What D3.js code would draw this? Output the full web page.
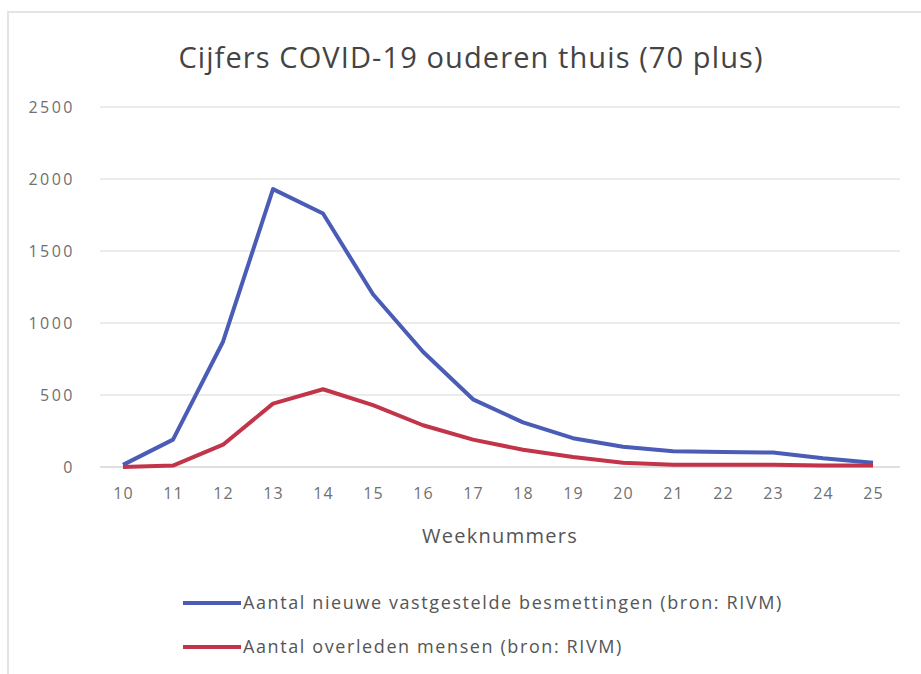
<!DOCTYPE html>
<meta charset="utf-8">
<html>
<head>
<script src="https://d3js.org/d3.v7.min.js"></script>
<style>
  body { margin: 0; background: #fff; }
  text { font-family: "Open Sans", sans-serif; }
</style>
</head>
<body>
<svg width="921" height="674"></svg>
<script>
// week numbers on the x axis
var weeks = [10, 11, 12, 13, 14, 15, 16, 17, 18, 19, 20, 21, 22, 23, 24, 25];
// new confirmed infections
var besmettingen = [15, 190, 870, 1930, 1760, 1200, 800, 470, 310, 200, 140, 110, 105, 100, 60, 30];
// deaths
var overleden = [0, 10, 155, 440, 540, 430, 290, 190, 120, 70, 30, 15, 15, 15, 10, 10];
var yTicks = [0, 500, 1000, 1500, 2000, 2500];
var seriesNames = ["Aantal nieuwe vastgestelde besmettingen (bron: RIVM)", "Aantal overleden mensen (bron: RIVM)"];
var colors = ["#4a5cb6", "#c13449"];

var svg = d3.select("svg");

// faint frame of the original picture
svg.append("rect")
    .attr("x", 8).attr("y", 12)
    .attr("width", 930).attr("height", 700)
    .attr("fill", "none")
    .attr("stroke", "#e4e4e4")
    .attr("stroke-width", 2);

var x = d3.scaleLinear().domain([10, 25]).range([123, 873]);
var y = d3.scaleLinear().domain([0, 2500]).range([467, 107]);

// gridlines
svg.append("g")
  .selectAll("line")
  .data(yTicks)
  .enter().append("line")
    .attr("x1", 100).attr("x2", 900)
    .attr("y1", function(d) { return y(d); })
    .attr("y2", function(d) { return y(d); })
    .attr("stroke", function(d) { return d == 0 ? "#d4d4d4" : "#e6e6e6"; })
    .attr("stroke-width", 1.5);

// y axis labels
var yAxis = svg.append("g")
    .attr("transform", "translate(75,0)")
    .call(d3.axisLeft(y).tickValues(yTicks).tickFormat(d3.format("d")).tickSize(0).tickPadding(0));
yAxis.select(".domain").remove();
yAxis.selectAll("text")
    .attr("font-size", "16px")
    .attr("fill", "#707070")
    .style("letter-spacing", "2.5px")
    .style("font-family", "'Open Sans', sans-serif");

// x axis labels
var xAxis = svg.append("g")
    .attr("transform", "translate(0,488)")
    .call(d3.axisBottom(x).tickValues(weeks).tickFormat(d3.format("d")).tickSize(0).tickPadding(0));
xAxis.select(".domain").remove();
xAxis.selectAll("text")
    .attr("font-size", "16px")
    .attr("fill", "#707070")
    .style("letter-spacing", "1px")
    .style("font-family", "'Open Sans', sans-serif");

svg.append("text")
    .attr("x", 500).attr("y", 543)
    .attr("text-anchor", "middle")
    .attr("font-size", "20px")
    .attr("fill", "#555")
    .style("letter-spacing", "1.3px")
    .text("Weeknummers");

svg.append("text")
    .attr("x", 471).attr("y", 68)
    .attr("text-anchor", "middle")
    .attr("font-size", "29px")
    .attr("fill", "#444")
    .style("letter-spacing", "1.1px")
    .text("Cijfers COVID-19 ouderen thuis (70 plus)");

var line = d3.line()
    .x(function(d, i) { return x(weeks[i]); })
    .y(function(d) { return y(d); });

[besmettingen, overleden].forEach(function(s, i) {
  svg.append("path")
      .datum(s)
      .attr("d", line)
      .attr("fill", "none")
      .attr("stroke", colors[i])
      .attr("stroke-width", 4)
      .attr("stroke-linejoin", "round");
});

// legend
var legend = svg.append("g");
seriesNames.forEach(function(name, i) {
  var ly = 603 + i * 44;
  legend.append("line")
      .attr("x1", 183).attr("x2", 241)
      .attr("y1", ly).attr("y2", ly)
      .attr("stroke", colors[i])
      .attr("stroke-width", 4);
  legend.append("text")
      .attr("x", 243).attr("y", ly + 6)
      .attr("font-size", "18px")
      .attr("fill", "#555")
      .style("letter-spacing", "1.6px")
      .text(name);
});
</script>
</body>
</html>
